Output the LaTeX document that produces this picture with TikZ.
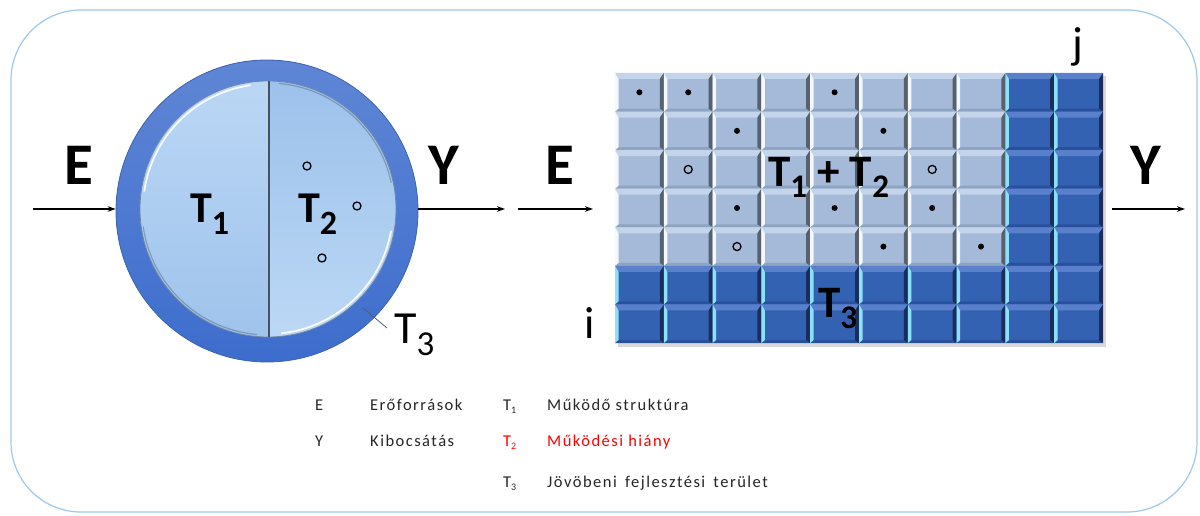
\documentclass[tikz,border=0pt]{standalone}
\usepackage{fontspec}
\setmainfont{Carlito}
\usetikzlibrary{arrows.meta}
\definecolor{framec}{HTML}{9DC8EA}
\definecolor{ringtop}{HTML}{5F86D5}
\definecolor{ringbot}{HTML}{3D6DCD}
\definecolor{ringedge}{HTML}{3A62B0}
\definecolor{lhtop}{HTML}{BBD7F5}
\definecolor{lhbot}{HTML}{9FC3EC}
\definecolor{rhtop}{HTML}{9CC1EB}
\definecolor{rhbot}{HTML}{BCD8F5}
\definecolor{coreedge}{HTML}{6F88A8}
\definecolor{divc}{HTML}{46525F}
\definecolor{lface}{HTML}{A4BAD8}
\definecolor{ltop}{HTML}{C4D5EB}
\definecolor{lleft}{HTML}{F4F8FD}
\definecolor{lright}{HTML}{56616D}
\definecolor{lbot}{HTML}{8EA4C3}
\definecolor{dface}{HTML}{3462B2}
\definecolor{dtop}{HTML}{5A80CC}
\definecolor{dleft}{HTML}{8AE2FA}
\definecolor{dright}{HTML}{1B2D5A}
\definecolor{dbot}{HTML}{28509C}
\definecolor{legred}{HTML}{FF0000}
\definecolor{leggray}{HTML}{262626}
\tikzset{
  arr/.style={line width=1.3pt,-{Stealth[length=8pt,width=5.5pt]}},
  bigletter/.style={inner sep=0pt,anchor=base,font=\fontsize{59}{60}\selectfont\bfseries},
  boldlab/.style={inner sep=0pt,anchor=base west,font=\fontsize{44}{46}\selectfont\bfseries},
  reglab/.style={inner sep=0pt,anchor=base,font=\fontsize{45}{46}\selectfont},
  legtxt/.style={inner sep=0pt,anchor=base west,text=leggray,font=\fontsize{16.5}{18}\selectfont\addfontfeature{LetterSpace=9}},
  legsym/.style={inner sep=0pt,anchor=base west,text=leggray,font=\fontsize{16.5}{18}\selectfont},
  hollow/.style={draw=black,line width=1.3pt},
  fulldot/.style={fill=black}
}
\begin{document}
\begin{tikzpicture}[x=1pt,y=1pt]
\useasboundingbox (0,0) rectangle (1200,515);
% frame
\draw[framec,line width=1.2pt,rounded corners=70pt] (11,3) rectangle (1197,505);

% ---------- left: circle ----------
\node[circle,minimum size=302pt,inner sep=0pt,top color=ringtop,bottom color=ringbot,draw=ringedge,line width=0.8pt] (ring) at (267,304) {};
\node[circle,minimum size=256pt,inner sep=0pt] (core) at (268,306) {};
\begin{scope}
  \clip (268,306) circle (128);
  \shade[top color=lhtop,bottom color=lhbot] (135,175) rectangle (269,437);
  \shade[top color=rhtop,bottom color=rhbot] (269,175) rectangle (400,437);
\end{scope}
\draw[coreedge,line width=0.8pt] (268,306) circle (128);
\draw[white,line width=1.8pt,opacity=0.9] (268,306) ++(98:125) arc[start angle=98,end angle=172,radius=125];
\draw[white,line width=1.8pt,opacity=0.9] (268,306) ++(-10:125) arc[start angle=-10,end angle=-84,radius=125];
\draw[coreedge!80!black,line width=1.2pt,opacity=0.5] (268,306) ++(85:126) arc[start angle=85,end angle=12,radius=126];
\draw[coreedge!80!black,line width=1.2pt,opacity=0.5] (268,306) ++(188:126) arc[start angle=188,end angle=265,radius=126];
\draw[divc,line width=1.5pt] (269,434) -- (269,178);

\node[boldlab] (t1c) at (190,292) {T\raisebox{-12pt}{\fontsize{34}{34}\selectfont 1}};
\node[boldlab] (t2c) at (298,292) {T\raisebox{-12pt}{\fontsize{34}{34}\selectfont 2}};
\draw[hollow] (307,349) circle (4);
\draw[hollow] (357,309) circle (4);
\draw[hollow] (322,257) circle (4);

\node[inner sep=0pt,anchor=base west,font=\fontsize{46}{48}\selectfont] (t3c) at (394,172) {T\raisebox{-12pt}{\fontsize{35}{35}\selectfont 3}};
\coordinate (t3ring) at (363,207);
\coordinate (t3tip) at (387,187);
\draw[coreedge!70!black,line width=0.8pt] (t3ring) -- (t3tip);

\node[bigletter] (eL) at (79,330) {E};
\node[bigletter] (yL) at (444,330) {Y};
\coordinate (inL) at (33,306);
\coordinate (outL) at (505,306);
\draw[arr] (inL) -- (inL -| ring.west);
\draw[arr] (outL -| ring.east) -- (outL);

% ---------- right: grid ----------
\fill[black,opacity=0.15] (618,168) rectangle (1106,439);
\foreach \c in {1,...,10}{
  \foreach \r in {1,...,7}{
    \pgfmathsetmacro\xl{615+(\c-1)*48.8}
    \pgfmathsetmacro\xr{\xl+48.8}
    \pgfmathsetmacro\yt{442-(\r-1)*38.5714}
    \pgfmathsetmacro\yb{\yt-38.5714}
    \pgfmathtruncatemacro\dk{((\c>8)||(\r>5)) ? 1 : 0}
    \ifnum\dk=1
      \colorlet{cface}{dface}\colorlet{ctop}{dtop}\colorlet{cleft}{dleft}\colorlet{cright}{dright}\colorlet{cbot}{dbot}
    \else
      \colorlet{cface}{lface}\colorlet{ctop}{ltop}\colorlet{cleft}{lleft}\colorlet{cright}{lright}\colorlet{cbot}{lbot}
    \fi
    \fill[cface] (\xl,\yb) rectangle (\xr,\yt);
    \fill[ctop] (\xl,\yt) -- (\xr,\yt) -- (\xr-4,\yt-6) -- (\xl+3.5,\yt-6) -- cycle;
    \fill[cbot] (\xl,\yb) -- (\xr,\yb) -- (\xr-4,\yb+3) -- (\xl+3.5,\yb+3) -- cycle;
    \fill[cleft] (\xl,\yt) -- (\xl+3.5,\yt-6) -- (\xl+3.5,\yb+3) -- (\xl,\yb) -- cycle;
    \fill[cright] (\xr,\yt) -- (\xr-4,\yt-6) -- (\xr-4,\yb+3) -- (\xr,\yb) -- cycle;
  }
}
\node[minimum width=488pt,minimum height=270pt,inner sep=0pt] (grid) at (859,307) {};
\foreach \c/\r in {1/1,2/1,5/1,3/2,6/2,3/4,5/4,7/4,6/5,8/5}{
  \fill[fulldot] ({615+(\c-0.5)*48.8},{442-(\r-0.5)*38.5714}) circle (3);
}
\foreach \c/\r in {2/3,7/3,3/5}{
  \draw[hollow] ({615+(\c-0.5)*48.8},{442-(\r-0.5)*38.5714}) circle (4);
}
\node[boldlab,font=\fontsize{45}{46}\selectfont\bfseries] (t12g) at (768,328) {T\raisebox{-11pt}{\fontsize{33}{33}\selectfont 1} + T\raisebox{-11pt}{\fontsize{33}{33}\selectfont 2}};
\node[boldlab,font=\fontsize{45}{46}\selectfont\bfseries] (t3g) at (818,198) {T\raisebox{-11pt}{\fontsize{33}{33}\selectfont 3}};
\node[reglab] (jl) at (1078,456) {j};
\node[reglab] (il) at (590,177) {i};

\node[bigletter] (eR) at (560,330) {E};
\node[bigletter] (yR) at (1146,330) {Y};
\coordinate (inG1) at (518,306);
\coordinate (inG2) at (593,306);
\coordinate (outG1) at (1112,306);
\coordinate (outG2) at (1185,306);
\draw[arr] (inG1) -- (inG2);
\draw[arr] (outG1) -- (outG2);

% ---------- legend ----------
\node[legsym] (lE) at (315,104.5) {E};
\node[legtxt] (lEt) at (370,104.5) {Erőforrások};
\node[legsym] (lY) at (315,68.5) {Y};
\node[legtxt] (lYt) at (370,68.5) {Kibocsátás};
\node[legsym] (l1) at (503,104.5) {T\raisebox{-3pt}{\fontsize{10}{10}\selectfont 1}};
\node[legtxt] (l1t) at (547,104.5) {Működő struktúra};
\node[legsym,text=legred] (l2) at (503,68.5) {T\raisebox{-3pt}{\fontsize{10}{10}\selectfont 2}};
\node[legtxt,text=legred] (l2t) at (547,68.5) {Működési hiány};
\node[legsym] (l3) at (503,27.5) {T\raisebox{-3pt}{\fontsize{10}{10}\selectfont 3}};
\node[legtxt] (l3t) at (547,27.5) {Jövöbeni\hspace{3pt} fejlesztési\hspace{3pt} terület};
\end{tikzpicture}
\end{document}
